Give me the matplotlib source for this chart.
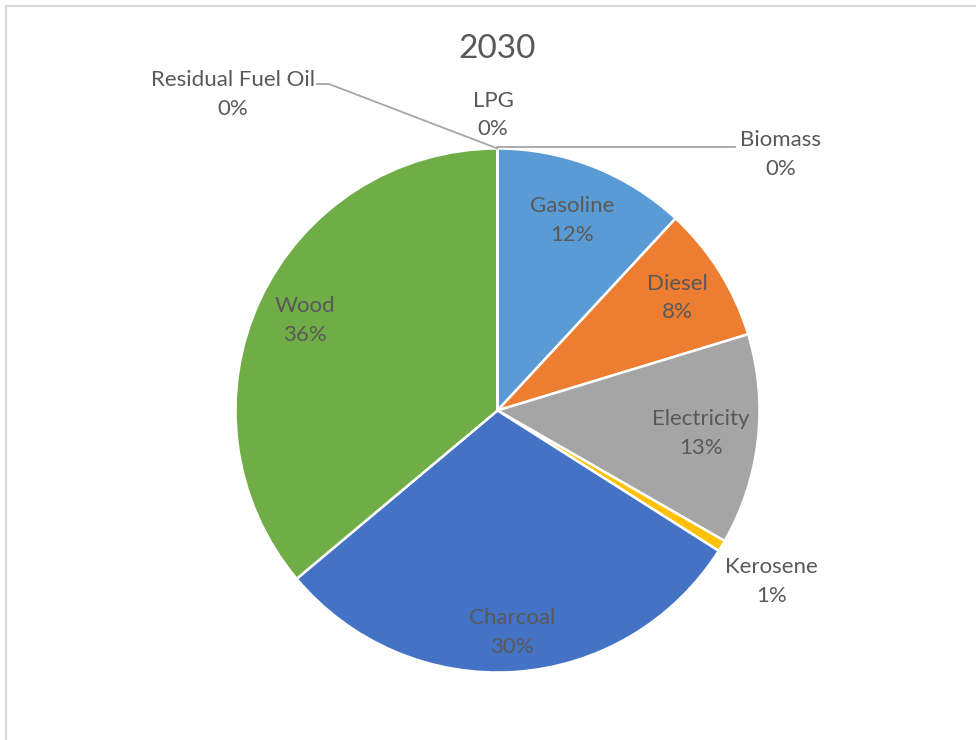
import numpy as np
import matplotlib
matplotlib.use('Agg')
import matplotlib.pyplot as plt
from matplotlib.patches import Rectangle

# shares of final energy demand, 2030 (percent)
fuels = ['Gasoline', 'Diesel', 'Electricity', 'Kerosene', 'Charcoal', 'Wood',
         'Residual Fuel Oil', 'LPG', 'Biomass']
shares = [11.9, 8.4, 13.0, 0.7, 29.9, 36.1, 0.0, 0.0, 0.0]
colors = ['#5B9BD5', '#ED7D31', '#A5A5A5', '#FFC000', '#4472C4', '#70AD47',
          '#255E91', '#9E480E', '#636363']

plt.rcParams['font.family'] = ['Lato', 'DejaVu Sans']
txt_color = '#595959'
W, H = 976, 740
cx, cy, R = 497.5, 410.5, 262

fig = plt.figure(figsize=(W / 100, H / 100), dpi=100)
fig.patches.append(Rectangle((6 / W, -0.1), 1.2, 1.1 - 6 / H, transform=fig.transFigure,
                             fill=False, edgecolor='#D9D9D9', linewidth=1.5))

ax = fig.add_axes([(cx - R) / W, (H - cy - R) / H, 2 * R / W, 2 * R / H])
wedges, _ = ax.pie(shares, colors=colors, startangle=90, counterclock=False,
                   wedgeprops=dict(edgecolor='white', linewidth=1.8))
ax.set_xlim(-1, 1)
ax.set_ylim(-1, 1)
ax.set_aspect('equal')
ax.axis('off')

total = sum(shares)
# inside labels: radial distance per slice
inside = {'Gasoline': 0.78, 'Diesel': 0.81, 'Electricity': 0.78, 'Charcoal': 0.85, 'Wood': 0.81}
# outside labels: position in pie units
outside = {'Kerosene': (1.045, -0.652), 'Residual Fuel Oil': (-1.011, 1.205),
           'LPG': (-0.017, 1.128), 'Biomass': (1.082, 0.976)}

for w, name, v in zip(wedges, fuels, shares):
    label = f'{name}\n{round(v / total * 100):.0f}%'
    if name in inside:
        mid = np.deg2rad((w.theta1 + w.theta2) / 2)
        r = inside[name]
        x, y = r * np.cos(mid), r * np.sin(mid)
    else:
        x, y = outside[name]
    ax.text(x, y, label, ha='center', va='center', fontsize=16, color=txt_color,
            linespacing=1.55, clip_on=False)

# leader lines for the zero slices
lc = '#A6A6A6'
ax.plot([-0.689, -0.643, 0.0], [1.246, 1.246, 1.0], color=lc, lw=1.3, clip_on=False)
ax.plot([0.0, 0.906], [1.004, 1.004], color=lc, lw=1.3, clip_on=False)

fig.text(cx / W, 1 - 49 / H, '2030', ha='center', va='center', fontsize=24, color=txt_color)

fig.savefig('out.png', dpi=100, facecolor='white')
